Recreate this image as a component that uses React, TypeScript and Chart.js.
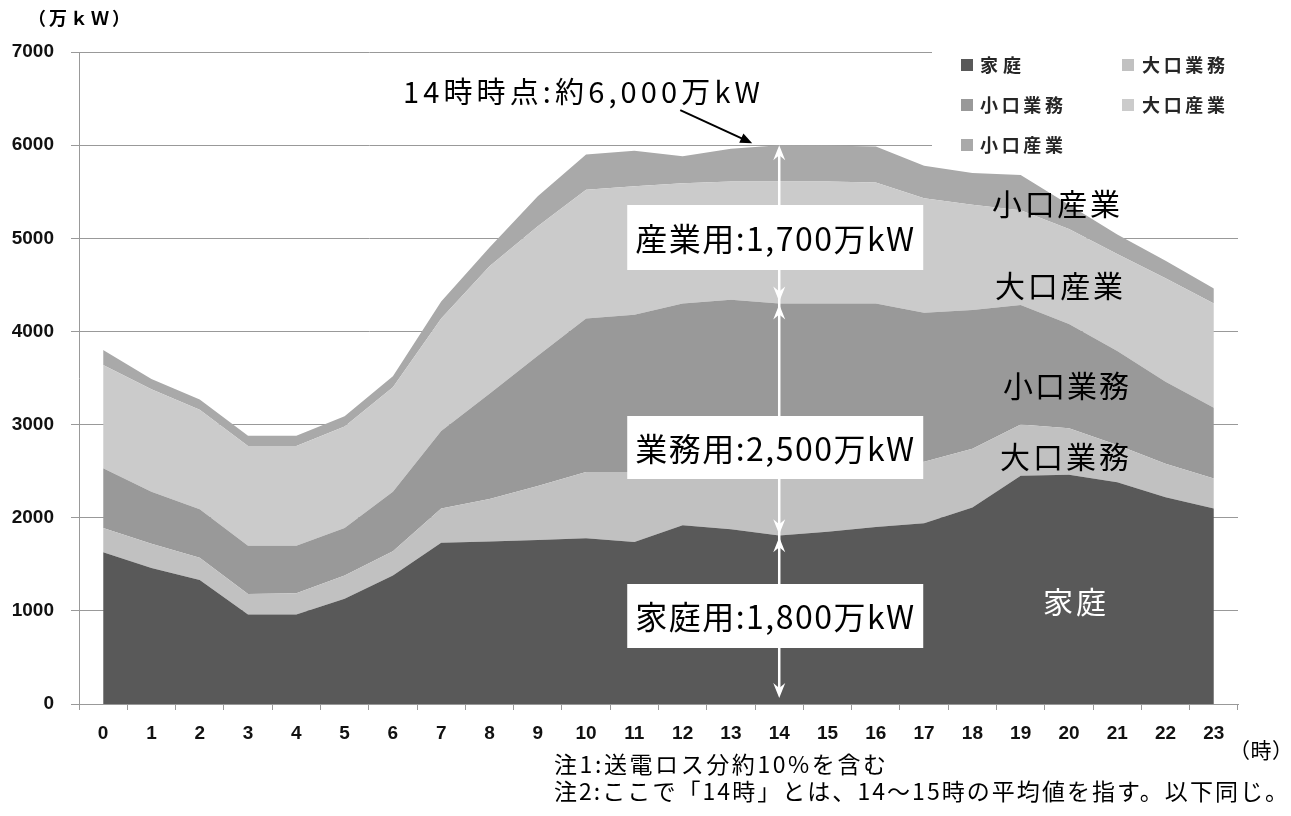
import React, { useEffect, useRef } from 'react';
import { Chart, registerables } from 'chart.js';

Chart.register(...registerables);

// ---- data (万kW), hour 0..23 ----
const hours = ['0','1','2','3','4','5','6','7','8','9','10','11','12','13','14','15','16','17','18','19','20','21','22','23'];
const katei = [1630,1460,1330,960,960,1130,1380,1730,1745,1760,1780,1740,1920,1875,1810,1850,1900,1940,2110,2450,2460,2380,2220,2100];
const ooguchiGyomu = [260,260,240,220,230,250,260,370,455,580,710,750,600,665,730,700,670,660,630,550,500,400,360,320];
const koguchiGyomu = [640,560,520,520,510,510,640,830,1130,1400,1650,1690,1780,1800,1760,1750,1730,1600,1490,1285,1120,1010,880,760];
const ooguchiSangyo = [1110,1100,1070,1070,1070,1090,1120,1210,1370,1390,1380,1380,1290,1270,1310,1310,1300,1230,1130,1015,1020,1040,1110,1120];
const koguchiSangyo = [160,110,110,110,110,110,120,180,200,320,380,380,290,350,390,385,385,350,340,380,260,210,190,160];

const seriesNames = ['家庭', '大口業務', '小口業務', '大口産業', '小口産業'];
const seriesData = [katei, ooguchiGyomu, koguchiGyomu, ooguchiSangyo, koguchiSangyo];
const seriesColors = ['#595959', '#c1c1c1', '#999999', '#cbcbcb', '#a9a9a9'];

const yMin = 0;
const yMax = 7000;
const yStep = 1000;

// annotation values
const peakHour = 14;
const peakTotal = 6000;
const gyomuTop = 4300;
const kateiTop = 1800;
const peakText = '14時時点:約6,000万kW';
const boxTexts = ['産業用:1,700万kW', '業務用:2,500万kW', '家庭用:1,800万kW'];
const yTitle = '（万ｋＷ）';
const xTitle = '（時）';
const notes = ['注1:送電ロス分約10%を含む', '注2:ここで「14時」とは、14～15時の平均値を指す。以下同じ。'];

const JP = '"Noto Sans CJK JP", "Noto Sans", sans-serif';

function fitText(ctx: any, text: string, x: number, y: number, width: number, font: string, color: string) {
  ctx.save();
  ctx.font = font;
  ctx.fillStyle = color;
  ctx.textAlign = 'left';
  ctx.textBaseline = 'middle';
  if ('letterSpacing' in ctx) ctx.letterSpacing = '0px';
  const w = ctx.measureText(text).width;
  const n = Array.from(text).length;
  if ('letterSpacing' in ctx && n > 1) {
    const ls = (width - w) / (n - 1);
    ctx.letterSpacing = ls.toFixed(2) + 'px';
  }
  ctx.fillText(text, x, y);
  ctx.restore();
}

function head(ctx: any, x: number, tipY: number, dir: number, len = 15, half = 6, notch = 5) {
  ctx.beginPath();
  ctx.moveTo(x, tipY);
  ctx.lineTo(x - half, tipY - dir * len);
  ctx.lineTo(x, tipY - dir * (len - notch));
  ctx.lineTo(x + half, tipY - dir * len);
  ctx.closePath();
  ctx.fill();
}

const overlayPlugin = {
  id: 'overlay',
  beforeDatasetsDraw(chart: any) {
    const ctx = chart.ctx;
    ctx.save();
    ctx.fillStyle = '#ffffff';
    ctx.fillRect(932, 44, 320, 116);
    ctx.restore();
  },
  afterDatasetsDraw(chart: any) {
    const ctx = chart.ctx;
    const xs = chart.scales.x;
    const ys = chart.scales.y;
    const ax = xs.getPixelForValue(peakHour);
    const yTop = ys.getPixelForValue(peakTotal);
    const yMid = ys.getPixelForValue(gyomuTop);
    const yLow = ys.getPixelForValue(kateiTop);
    const y0 = ys.getPixelForValue(0);

    // white double arrows
    ctx.save();
    ctx.strokeStyle = '#ffffff';
    ctx.fillStyle = '#ffffff';
    ctx.lineWidth = 2.5;
    ctx.beginPath();
    ctx.moveTo(ax, yTop + 4);
    ctx.lineTo(ax, y0 - 10);
    ctx.stroke();
    head(ctx, ax, yTop, -1);
    head(ctx, ax, yMid - 2, 1);
    head(ctx, ax, yMid + 1, -1);
    head(ctx, ax, yLow - 2, 1);
    head(ctx, ax, yLow + 1, -1);
    head(ctx, ax, y0 - 6, 1);
    ctx.restore();

    // white boxes with text
    const boxes = [
      { top: 205, bottom: 270, cy: 239 },
      { top: 416, bottom: 479, cy: 449 },
      { top: 584, bottom: 648, cy: 617 },
    ];
    boxes.forEach((b, i) => {
      ctx.save();
      ctx.fillStyle = '#ffffff';
      ctx.fillRect(ax - 152, b.top, 296, b.bottom - b.top);
      ctx.restore();
      fitText(ctx, boxTexts[i], ax - 144, b.cy, 279, `32px ${JP}`, '#000');
    });

    // series labels on the right
    fitText(ctx, '小口産業', 992, 204, 128, `30px ${JP}`, '#000');
    fitText(ctx, '大口産業', 995, 286, 128, `30px ${JP}`, '#000');
    fitText(ctx, '小口業務', 1003, 386, 126, `30px ${JP}`, '#000');
    fitText(ctx, '大口業務', 1000, 457, 129, `30px ${JP}`, '#000');
    fitText(ctx, '家庭', 1043, 602, 63, `30px ${JP}`, '#ffffff');

    // peak annotation
    fitText(ctx, peakText, 403, 92, 357, `29px ${JP}`, '#000');
    ctx.save();
    ctx.strokeStyle = '#000';
    ctx.fillStyle = '#000';
    ctx.lineWidth = 2;
    const ex = ax - 27, ey = yTop - 2, sx = ax - 99, sy = yTop - 35;
    const ang = Math.atan2(ey - sy, ex - sx);
    ctx.beginPath();
    ctx.moveTo(sx, sy);
    ctx.lineTo(ex - 8 * Math.cos(ang), ey - 8 * Math.sin(ang));
    ctx.stroke();
    ctx.beginPath();
    ctx.moveTo(ex, ey);
    ctx.lineTo(ex - 12 * Math.cos(ang) + 5 * Math.sin(ang), ey - 12 * Math.sin(ang) - 5 * Math.cos(ang));
    ctx.lineTo(ex - 12 * Math.cos(ang) - 5 * Math.sin(ang), ey - 12 * Math.sin(ang) + 5 * Math.cos(ang));
    ctx.closePath();
    ctx.fill();
    ctx.restore();

    // legend
    const legendPos = [
      { sx: 961, tx: 980, cy: 65 },
      { sx: 1122, tx: 1142, cy: 65 },
      { sx: 961, tx: 980, cy: 105 },
      { sx: 1122, tx: 1142, cy: 105 },
      { sx: 961, tx: 980, cy: 145 },
    ];
    seriesNames.forEach((name, k) => {
      const p = legendPos[k];
      ctx.save();
      ctx.fillStyle = seriesColors[k];
      ctx.fillRect(p.sx, p.cy - 6, 12, 12);
      ctx.restore();
      fitText(ctx, name, p.tx, p.cy, Array.from(name).length * 21 - 1, `bold 18px ${JP}`, '#262626');
    });

    // axis titles and notes
    fitText(ctx, yTitle, 28, 18, 102, `bold 18px ${JP}`, '#000');
    fitText(ctx, xTitle, 1229, 750, 64, `21px ${JP}`, '#000');
    fitText(ctx, notes[0], 554, 764, 332, `23px ${JP}`, '#000');
    fitText(ctx, notes[1], 554, 791, 734, `23px ${JP}`, '#000');
  },
};

export default function App() {
  const ref = useRef<HTMLCanvasElement | null>(null);
  useEffect(() => {
    if (!ref.current) return;
    const chart = new Chart(ref.current, {
      type: 'line',
      data: {
        labels: hours,
        datasets: seriesData.map((d, i) => ({
          label: seriesNames[i],
          data: d,
          backgroundColor: seriesColors[i],
          borderColor: seriesColors[i],
          borderWidth: 0,
          pointRadius: 0,
          tension: 0,
          fill: i === 0 ? 'origin' : '-1',
        })),
      },
      options: {
        responsive: false,
        animation: false,
        devicePixelRatio: 1,
        layout: { padding: { top: 52, right: 53, left: 0, bottom: 0 } },
        plugins: { legend: { display: false }, tooltip: { enabled: false } },
        scales: {
          x: {
            type: 'category',
            offset: true,
            grid: { offset: true, drawOnChartArea: false, drawTicks: true, tickLength: 6, color: '#999999' },
            border: { display: true, color: '#999999', width: 1 },
            ticks: {
              color: '#111',
              padding: 12,
              autoSkip: false,
              maxRotation: 0,
              font: { family: '"Liberation Sans", Arial, sans-serif', size: 19, weight: 'bold' },
            },
            afterFit: (s: any) => { s.height = 112; },
          },
          y: {
            stacked: true,
            min: yMin,
            max: yMax,
            grid: { color: '#999999', tickLength: 8, drawTicks: true },
            border: { display: true, color: '#999999', width: 1 },
            ticks: {
              stepSize: yStep,
              color: '#111',
              padding: 17,
              callback: (v: any) => String(v),
              font: { family: '"Liberation Sans", Arial, sans-serif', size: 19, weight: 'bold' },
            },
            afterFit: (s: any) => { s.width = 79; },
          },
        },
      },
      plugins: [overlayPlugin],
    } as any);
    return () => chart.destroy();
  }, []);
  return (
    <div style={{ position: 'absolute', left: 0, top: 0, width: 1291, height: 816, background: '#fff' }}>
      <canvas ref={ref} width={1291} height={816} style={{ display: 'block' }} />
    </div>
  );
}
